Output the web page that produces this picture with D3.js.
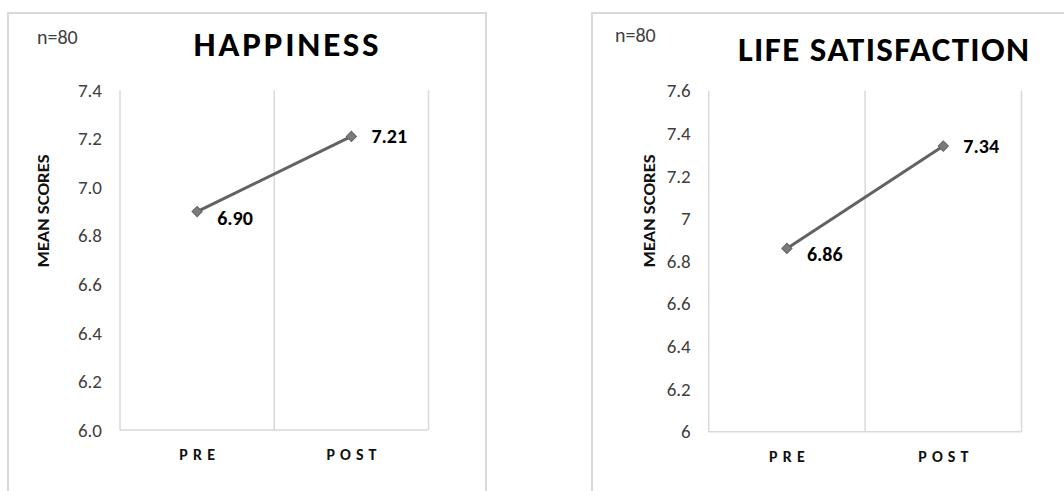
<!DOCTYPE html>
<html>
<head>
<meta charset="utf-8">
<script src="https://cdn.jsdelivr.net/npm/d3@7"></script>
<style>
  html, body { margin: 0; padding: 0; background: #fff; }
  svg { display: block; font-family: Carlito, Calibri, Lato, "Open Sans", sans-serif; }
</style>
</head>
<body>
<svg id="chart" width="1064" height="491"></svg>
<script>
// Pre/post mean scores (n = 80)
const categories = ["PRE", "POST"];
const happinessValues = [6.90, 7.21];
const lifeSatisfactionValues = [6.86, 7.34];
const happinessTicks = [6.0, 6.2, 6.4, 6.6, 6.8, 7.0, 7.2, 7.4];
const lifeSatisfactionTicks = [6, 6.2, 6.4, 6.6, 6.8, 7, 7.2, 7.4, 7.6];
const sampleLabel = "n=80";
const yAxisTitle = "MEAN SCORES";

const svg = d3.select("#chart");
const gridColor = "#d9d9d9";
const fontStack = "Carlito, Calibri, Lato, sans-serif";

function drawPanel(cfg) {
  const g = svg.append("g");

  // outer frame (runs off the bottom / right like a cropped sheet)
  g.append("rect")
    .attr("x", cfg.frame.x).attr("y", cfg.frame.y)
    .attr("width", cfg.frame.w).attr("height", cfg.frame.h)
    .attr("fill", "none").attr("stroke", gridColor).attr("stroke-width", 2);

  const p = cfg.plot;
  const x = d3.scaleBand().domain(categories).range([p.left, p.right]);
  const y = d3.scaleLinear().domain(cfg.domain).range([p.bottom, p.top]);

  // vertical gridlines at category boundaries
  const bounds = [p.left].concat(categories.map(c => x(c) + x.bandwidth()));
  g.selectAll(".vgrid").data(bounds).join("line")
    .attr("x1", d => d).attr("x2", d => d)
    .attr("y1", y(cfg.domain[1])).attr("y2", y(cfg.domain[0]))
    .attr("stroke", gridColor).attr("stroke-width", 1.5);

  // category axis line
  g.append("line")
    .attr("x1", p.left).attr("x2", p.right)
    .attr("y1", y(cfg.domain[0])).attr("y2", y(cfg.domain[0]))
    .attr("stroke", gridColor).attr("stroke-width", 1.5);

  // value axis labels
  const yAxis = d3.axisLeft(y).tickValues(cfg.ticks).tickFormat(cfg.format).tickSize(0).tickPadding(cfg.tickPad);
  const ya = g.append("g").attr("transform", `translate(${p.left},0)`).call(yAxis);
  ya.attr("font-family", fontStack).attr("font-size", 19);
  ya.select(".domain").remove();
  ya.selectAll("text").attr("fill", "#404040");

  // category labels
  const xAxis = d3.axisBottom(x).tickSize(0).tickPadding(cfg.catPad);
  const xa = g.append("g").attr("transform", `translate(0,${y(cfg.domain[0])})`).call(xAxis);
  xa.attr("font-family", fontStack).attr("font-size", 16);
  xa.select(".domain").remove();
  xa.selectAll("text")
    .attr("font-weight", "bold").attr("fill", "#111")
    .attr("textLength", d => d === "PRE" ? 36 : 50)
    .attr("lengthAdjust", "spacing");

  // axis title
  g.append("text")
    .attr("transform", `translate(${cfg.yTitleX},${cfg.yTitleY}) rotate(-90)`)
    .attr("text-anchor", "middle").attr("dominant-baseline", "central")
    .attr("font-size", 16).attr("font-weight", "bold").attr("fill", "#111")
    .attr("textLength", 113).attr("lengthAdjust", "spacingAndGlyphs")
    .text(yAxisTitle);

  // sample size note
  g.append("text")
    .attr("x", cfg.nX).attr("y", cfg.nY)
    .attr("font-size", 20).attr("fill", "#404040")
    .text(sampleLabel);

  // chart title
  g.append("text")
    .attr("x", cfg.titleX).attr("y", cfg.titleY)
    .attr("text-anchor", "middle")
    .attr("font-size", 35).attr("font-weight", "bold").attr("fill", "#000")
    .attr("textLength", cfg.titleLen).attr("lengthAdjust", "spacing")
    .text(cfg.title);

  const pts = categories.map((c, i) => ({ c, v: cfg.values[i] }));
  const cx = d => x(d.c) + x.bandwidth() / 2;

  g.append("path")
    .datum(pts)
    .attr("d", d3.line().x(cx).y(d => y(d.v)))
    .attr("fill", "none").attr("stroke", "#626262").attr("stroke-width", 3);

  g.selectAll(".mk").data(pts).join("path")
    .attr("d", d3.symbol(d3.symbolSquare, 52)())
    .attr("transform", d => `translate(${cx(d)},${y(d.v)}) rotate(45)`)
    .attr("fill", "#7a7a7a").attr("stroke", "#666").attr("stroke-width", 1);

  g.selectAll(".lbl").data(pts).join("text")
    .attr("x", d => cx(d) + 20).attr("y", d => y(d.v) + (d.c === "PRE" ? 6 : 0))
    .attr("dominant-baseline", "central")
    .attr("font-size", 20).attr("font-weight", "bold").attr("fill", "#000")
    .text(d => d3.format(".2f")(d.v));
}

drawPanel({
  title: "HAPPINESS", titleX: 286, titleY: 56, titleLen: 185,
  values: happinessValues, ticks: happinessTicks, format: d3.format(".1f"),
  domain: [6.0, 7.4],
  frame: { x: 8, y: 13, w: 478, h: 500 },
  plot: { left: 120, right: 428.5, top: 90.3, bottom: 430 },
  tickPad: 18, catPad: 19,
  yTitleX: 43, yTitleY: 211, nX: 37, nY: 44
});

drawPanel({
  title: "LIFE SATISFACTION", titleX: 883.5, titleY: 61, titleLen: 291,
  values: lifeSatisfactionValues, ticks: lifeSatisfactionTicks, format: d3.format("~g"),
  domain: [6, 7.6],
  frame: { x: 592, y: 13, w: 500, h: 500 },
  plot: { left: 708.7, right: 1021.5, top: 90.7, bottom: 431.7 },
  tickPad: 18, catPad: 19,
  yTitleX: 649, yTitleY: 211, nX: 615, nY: 42
});
</script>
</body>
</html>
